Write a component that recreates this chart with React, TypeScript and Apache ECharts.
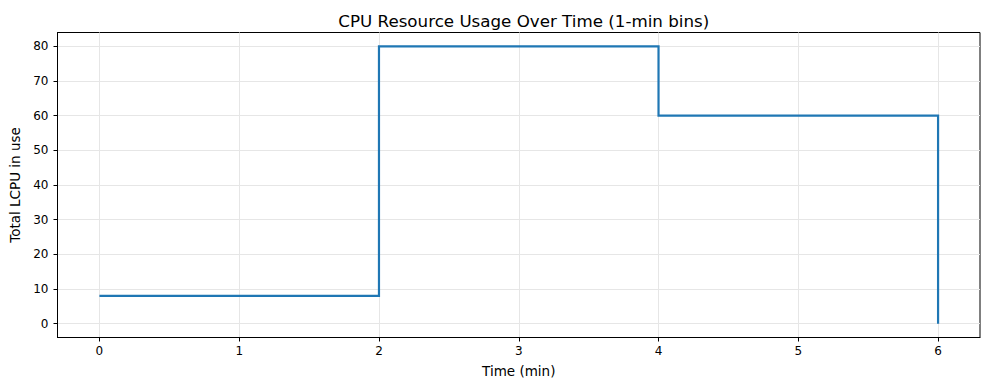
import React, { useEffect, useRef } from "react";
import * as echarts from "echarts";

const minutes = [0, 1, 2, 3, 4, 5, 6];
const lcpuInUse = [8, 8, 80, 80, 60, 60, 0];
const xTicks = [0, 1, 2, 3, 4, 5, 6];
const yTicks = [0, 10, 20, 30, 40, 50, 60, 70, 80];

const FONT = "DejaVu Sans";

export default function App() {
  const ref = useRef<HTMLDivElement>(null);
  useEffect(() => {
    document.body.style.margin = "0";
    const chart = echarts.init(ref.current!, null, { renderer: "svg" });
    const gridLeft = 57.5;
    const gridRight = 9;
    const gridTop = 32.5;
    const gridBottom = 52.5;
    chart.setOption({
      animation: false,
      backgroundColor: "#ffffff",
      title: {
        text: "CPU Resource Usage Over Time (1-min bins)",
        left: (gridLeft + (989 - gridRight)) / 2,
        textAlign: "center",
        top: 7.5,
        textStyle: { fontFamily: FONT, fontSize: 16.7, fontWeight: "normal", color: "#000" },
      },
      grid: {
        left: gridLeft,
        right: gridRight,
        top: gridTop,
        bottom: gridBottom,
        show: true,
        borderColor: "#000",
        borderWidth: 1,
        backgroundColor: "transparent",
      },
      xAxis: {
        type: "value",
        min: -0.3,
        max: 6.3,
        name: "Time (min)",
        nameLocation: "middle",
        nameGap: 26,
        nameTextStyle: { fontFamily: FONT, fontSize: 13.5, color: "#000", verticalAlign: "top" },
        axisLine: { show: true, onZero: false, lineStyle: { color: "#000", width: 1 } },
        axisTick: { show: true, length: 4, inside: false, customValues: xTicks, lineStyle: { color: "#000" } },
        axisLabel: { customValues: xTicks, margin: 7, fontFamily: FONT, fontSize: 12, color: "#000" },
        splitLine: { show: false },
      },
      yAxis: {
        type: "value",
        min: -4,
        max: 84,
        name: "Total LCPU in use",
        nameLocation: "middle",
        nameGap: 34,
        nameTextStyle: { fontFamily: FONT, fontSize: 13.5, color: "#000" },
        axisLine: { show: true, onZero: false, lineStyle: { color: "#000", width: 1 } },
        axisTick: { show: true, length: 4, inside: false, customValues: yTicks, lineStyle: { color: "#000" } },
        axisLabel: { customValues: yTicks, margin: 9, fontFamily: FONT, fontSize: 12, color: "#000" },
        splitLine: { show: false },
      },
      series: [
        {
          type: "line",
          data: [],
          silent: true,
          z: 0,
          markLine: {
            silent: true,
            z: 0,
            symbol: ["none", "none"],
            label: { show: false },
            animation: false,
            lineStyle: { color: "#e6e6e6", width: 1, type: "solid" },
            emphasis: { disabled: true },
            data: [
              ...yTicks.map((v) => ({ yAxis: v })),
              ...xTicks.map((v) => ({ xAxis: v })),
            ],
          },
        },
        {
          type: "line",
          step: "end",
          z: 10,
          data: minutes.map((m, i) => [m, lcpuInUse[i]]),
          showSymbol: false,
          symbol: "none",
          lineStyle: { color: "#1f77b4", width: 2.2, cap: "butt", join: "miter" },
          itemStyle: { color: "#1f77b4" },
        },
      ],
    });
    return () => chart.dispose();
  }, []);
  return <div ref={ref} style={{ width: 989, height: 390 }} />;
}
